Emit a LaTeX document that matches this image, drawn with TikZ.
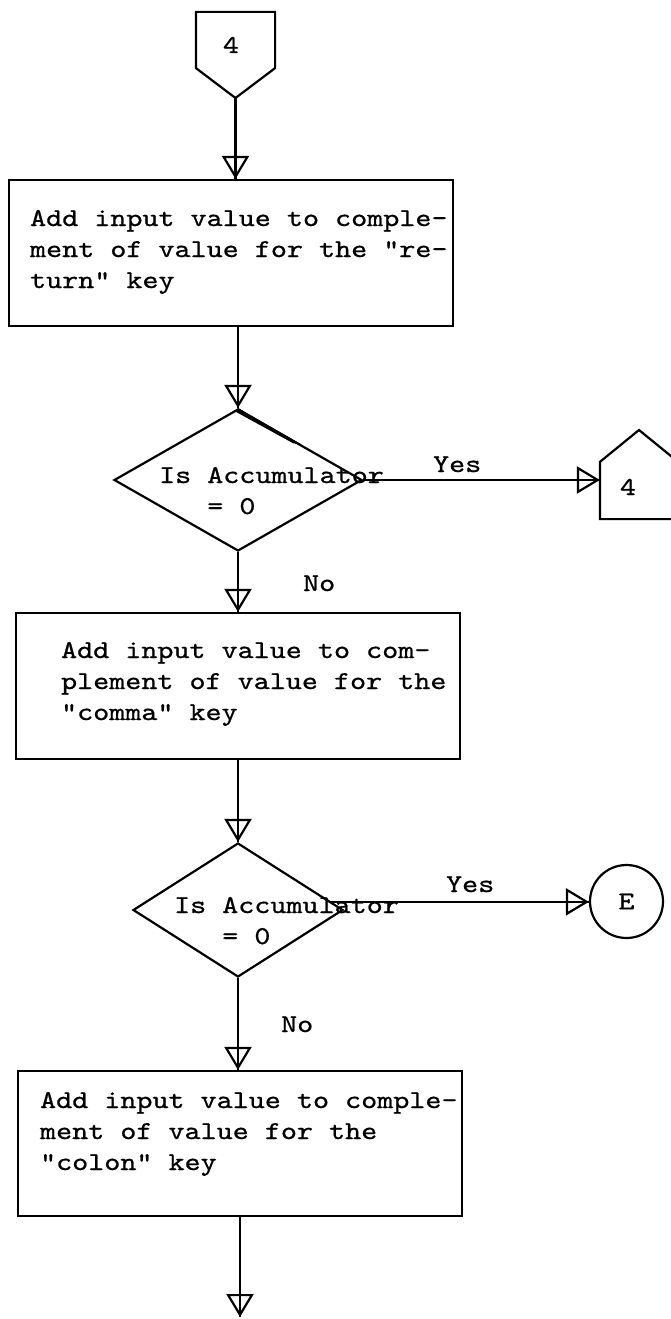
\documentclass[tikz,border=0pt]{standalone}
\usepackage{fontspec}
\usetikzlibrary{arrows.meta,shapes.geometric,calc}
\newfontfamily\tw{lmmono10-regular.otf}[FakeStretch=1.19, FakeBold=0.8]
\newcommand\stack[1]{\begin{tabular}[t]{@{}l@{}}#1\end{tabular}}
% a connector line that runs right through its open arrow head
\newcommand\flowline[2]{\draw[tip] #1 -- #2; \draw #1 -- #2;}

\begin{document}
\begin{tikzpicture}[x=1pt,y=-1pt,
  line width=2.2pt,
  txt/.style={font=\tw\fontsize{25.7}{31}\selectfont, inner sep=0pt},
  box/.style={draw, rectangle, minimum width=444pt, inner sep=0pt},
  decision/.style={draw, diamond, inner sep=0pt},
  tip/.style={-{Triangle[open,fill=none,length=23pt,width=27pt]}},
  connector/.style={inner sep=0pt}]

\clip (0,0) rectangle (671,1319);
\fill[white] (0,0) rectangle (671,1319);

% entry off-page connector
\node[connector, minimum width=77pt, minimum height=54pt] (c1) at (235.5,40) {};
\coordinate (c1tip) at (235.5,98);
\draw (c1.north west) -- (c1.north east) -- (c1.south east) -- (c1tip) -- (c1.south west) -- cycle;
\node[txt, anchor=base] (c1l) at (231,53) {4};

% first step
\node[box, minimum height=146pt] (b1) at (231,253) {};
\node[txt, anchor=base west] (b1t) at (29,226)
  {\stack{Add input value to comple-\\ment of value for the "re-\\turn" key}};
\flowline{(c1tip)}{(c1tip |- b1.north)}

% first test
\node[decision, minimum width=248pt, minimum height=142pt] (d1) at (238,480) {};
\fill (d1.north) -- ($(d1.north)!0.5!(d1.east)$) -- ($(d1.north)!0.45!(d1.east)+(-1,3)$)
  -- ($(d1.north)+(-2,4)$) -- cycle;
\node[txt, anchor=base west] (d1t) at (158,483) {\stack{Is Accumulator\\~~~= 0}};
\flowline{(d1.north |- b1.south)}{(d1.north)}

% off-page connector on the Yes branch
\node[connector, minimum width=76pt, minimum height=55pt] (p2) at (639,490.5) {};
\coordinate (p2top) at (639,430);
\draw (p2.south west) -- (p2.north west) -- (p2top) -- (p2.north east) -- (p2.south east) -- cycle;
\node[txt, anchor=base] (p2l) at (628,495) {4};
\flowline{(d1.east)}{(d1.east -| p2.west)}
\node[txt, anchor=base west] (y1) at (432,472) {Yes};

% second step
\node[box, minimum height=146pt] (b2) at (238,686) {};
\node[txt, anchor=base west] (b2t) at (60,658)
  {\stack{Add input value to com-\\plement of value for the\\"comma" key}};
\flowline{(d1.south)}{(d1.south |- b2.north)}
\node[txt, anchor=base west] (n1) at (302,591) {No};

% second test
\node[decision, minimum width=210pt, minimum height=134pt] (d2) at (238,910) {};
\node[txt, anchor=base west] (d2t) at (173,913) {\stack{Is Accumulator\\~~~= 0}};
\flowline{(d2.north |- b2.south)}{(d2.north)}

% exit on the Yes branch
\node[draw, circle, minimum size=73pt, txt] (e) at (626.5,901.5) {E};
\flowline{(d2.5)}{(d2.5 -| e.west)}
\node[txt, anchor=base west] (y2) at (445,892) {Yes};

% third step
\node[box, minimum height=145pt] (b3) at (240,1143.5) {};
\node[txt, anchor=base west] (b3t) at (39,1108)
  {\stack{Add input value to comple-\\ment of value for the\\"colon" key}};
\flowline{(d2.south)}{(d2.south |- b3.north)}
\node[txt, anchor=base west] (n2) at (280,1032) {No};

% continuation
\coordinate (out) at (240,1317);
\flowline{(out |- b3.south)}{(out)}
\end{tikzpicture}
\end{document}
